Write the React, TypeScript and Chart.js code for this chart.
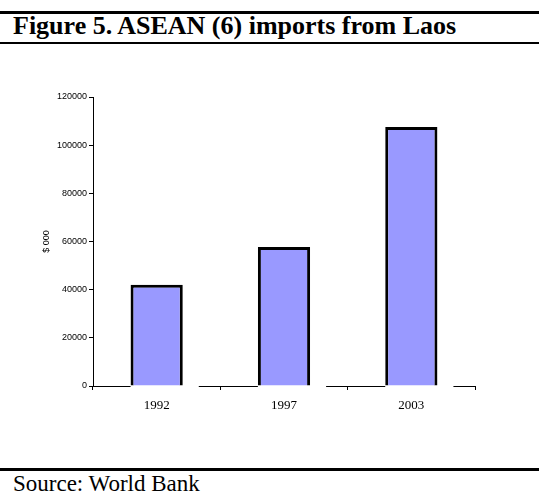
import React, { useEffect, useRef } from "react";
import { Chart, registerables } from "chart.js";

Chart.register(...registerables);

const categories = ["1992", "1997", "2003"];
const imports = [42000, 57700, 107500];
const yTicksMax = 120000;
const yTickStep = 20000;
const yTitle = "$ 000";
const titleText = "Figure 5. ASEAN (6) imports from Laos";
const sourceText = "Source: World Bank";

const brokenAxisPlugin = {
  id: "brokenAxis",
  beforeDatasetsDraw(chart: any) {
    const { ctx, chartArea } = chart;
    const meta = chart.getDatasetMeta(0);
    const y = chart.scales.y.getPixelForValue(0);
    const gap = 16;
    ctx.save();
    ctx.strokeStyle = "#000";
    ctx.lineWidth = 1;
    let cursor = chartArea.left;
    ctx.beginPath();
    meta.data.forEach((el: any) => {
      const { x, width } = el.getProps(["x", "width"], true);
      const l = x - width / 2;
      ctx.moveTo(cursor, y + 0.5);
      ctx.lineTo(l, y + 0.5);
      cursor = x + width / 2 + gap;
    });
    ctx.moveTo(cursor, y + 0.5);
    ctx.lineTo(chartArea.right, y + 0.5);
    ctx.stroke();
    ctx.restore();
  },
};

export default function App() {
  const ref = useRef<HTMLCanvasElement>(null);
  useEffect(() => {
    document.body.style.margin = "0";
    const chart = new Chart(ref.current as HTMLCanvasElement, {
      type: "bar",
      data: {
        labels: categories,
        datasets: [
          {
            data: imports,
            backgroundColor: "#9999FF",
            borderColor: "#000000",
            borderWidth: 3,
            borderSkipped: "bottom",
            barPercentage: 0.41,
            categoryPercentage: 1,
          },
        ],
      },
      options: {
        animation: false,
        responsive: false,
        layout: { padding: { left: 36, right: 64, top: 47, bottom: 0 } },
        plugins: { legend: { display: false }, tooltip: { enabled: false } },
        scales: {
          x: {
            border: { display: false },
            grid: {
              display: true,
              drawOnChartArea: false,
              drawTicks: true,
              tickLength: 4,
              color: "#000",
              offset: true,
            },
            ticks: {
              color: "#000",
              padding: 8,
              font: { family: "'Liberation Serif', 'Times New Roman', serif", size: 13 },
            },
            afterFit: (s: any) => {
              s.height = 54;
            },
          },
          y: {
            min: 0,
            max: yTicksMax,
            border: { display: true, color: "#000", width: 1 },
            grid: {
              drawOnChartArea: false,
              drawTicks: true,
              tickLength: 4,
              color: "#000",
            },
            ticks: {
              stepSize: yTickStep,
              color: "#000",
              padding: 2,
              font: { family: "'Liberation Sans', Arial, sans-serif", size: 9 },
              callback: (v: any) => String(v),
            },
            title: {
              display: true,
              text: yTitle,
              color: "#000",
              padding: { top: 5, bottom: 0 },
              font: { family: "'Liberation Sans', Arial, sans-serif", size: 9 },
            },
            afterFit: (s: any) => {
              s.width = 57;
            },
          },
        },
      },
      plugins: [brokenAxisPlugin],
    });
    return () => chart.destroy();
  }, []);

  return (
    <div
      style={{
        position: "relative",
        width: 539,
        height: 493,
        background: "#fff",
        overflow: "hidden",
        fontFamily: "'Liberation Serif', 'Times New Roman', serif",
      }}
    >
      <div style={{ position: "absolute", left: 0, top: 11, width: 539, height: 3, background: "#000" }} />
      <div
        style={{
          position: "absolute",
          left: 13,
          top: 13,
          fontSize: 26,
          lineHeight: "26px",
          fontWeight: "bold",
          whiteSpace: "nowrap",
          color: "#000",
        }}
      >
        {titleText}
      </div>
      <div style={{ position: "absolute", left: 0, top: 42, width: 539, height: 2, background: "#000" }} />
      <canvas
        ref={ref}
        width={539}
        height={390}
        style={{ position: "absolute", left: 0, top: 50, width: 539, height: 390 }}
      />
      <div style={{ position: "absolute", left: 0, top: 468, width: 539, height: 3, background: "#000" }} />
      <div
        style={{
          position: "absolute",
          left: 13,
          top: 472,
          fontSize: 23,
          lineHeight: "23px",
          whiteSpace: "nowrap",
          color: "#000",
        }}
      >
        {sourceText}
      </div>
    </div>
  );
}
